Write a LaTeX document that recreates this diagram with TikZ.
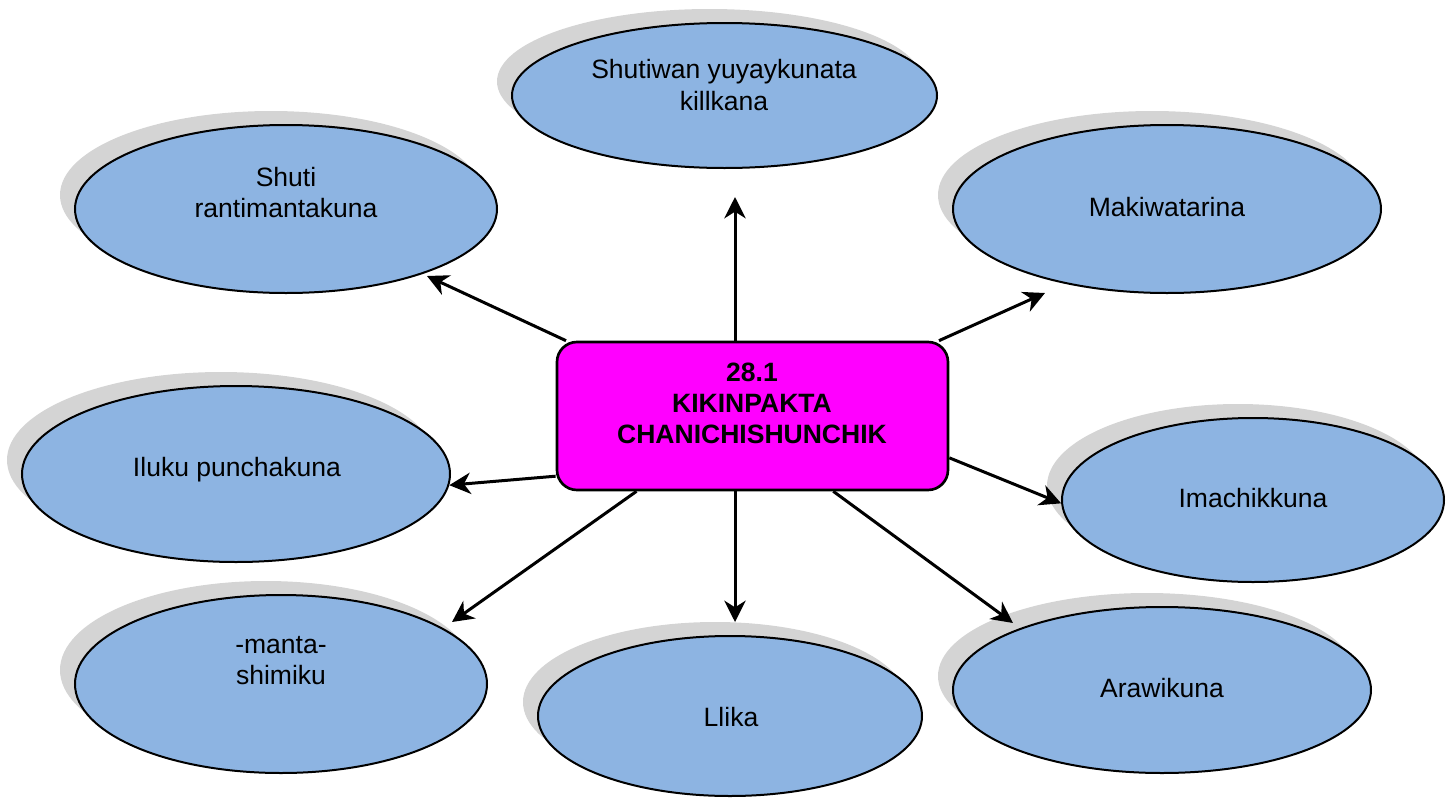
\documentclass[tikz,border=0pt]{standalone}
\usepackage{fontspec}
\setmainfont{Liberation Sans}
\usetikzlibrary{shapes.geometric,shadows,arrows.meta,calc}
\definecolor{ellblue}{RGB}{141,180,226}
\definecolor{shgray}{RGB}{212,212,212}
\definecolor{boxmag}{RGB}{255,0,255}
\begin{document}
\begin{tikzpicture}[x=0.75pt,y=-0.75pt,
  bubble/.style={ellipse, draw=black, line width=1.5pt, fill=ellblue, inner sep=0pt,
    drop shadow={shadow xshift=-11.25pt, shadow yshift=10.5pt, fill=shgray, opacity=1}},
  lbl/.style={align=center, font=\fontsize{19.9}{23.3}\selectfont, inner sep=0pt},
  hub/.style={rectangle, rounded corners=15pt, draw=black, line width=2pt, fill=boxmag,
    inner sep=0pt, minimum width=293.25pt, minimum height=111pt},
  hubtxt/.style={align=center, font=\bfseries\fontsize{19.9}{23.3}\selectfont, inner sep=0pt},
  conn/.style={line width=2.25pt, -{Stealth[length=16pt,width=16pt,inset=5pt]}}
]
\useasboundingbox (0,0) rectangle (1447,800);

% ellipses
\node[bubble, minimum width=316.5pt, minimum height=126pt] (e1) at (286,209) {};
\node[bubble, minimum width=318.75pt, minimum height=108.75pt] (e2) at (724.5,95.5) {};
\node[bubble, minimum width=321pt, minimum height=126pt] (e3) at (1167,209) {};
\node[bubble, minimum width=286.5pt, minimum height=123pt] (e4) at (1253,500) {};
\node[bubble, minimum width=321pt, minimum height=132pt] (e5) at (236,474) {};
\node[bubble, minimum width=309pt, minimum height=133.5pt] (e6) at (281,684) {};
\node[bubble, minimum width=288pt, minimum height=120pt] (e7) at (730,716) {};
\node[bubble, minimum width=313.5pt, minimum height=124.5pt] (e8) at (1162,690) {};

% labels
\node[lbl] (t1) at (286,192.5) {Shuti\\rantimantakuna};
\node[lbl] (t2) at (724,85) {Shutiwan yuyaykunata\\killkana};
\node[lbl] (t3) at (1167,207) {Makiwatarina};
\node[lbl] (t4) at (1253,498) {Imachikkuna};
\node[lbl] (t5) at (237,470) {Iluku punchakuna};
\node[lbl] (t6) at (281,661) {-manta-\\shimiku};
\node[lbl] (t7) at (731,717) {Llika};
\node[lbl] (t8) at (1162,688) {Arawikuna};

% central box
\node[hub] (box) at (752.5,416) {};
\node[hubtxt] (boxt) at (752,403) {28.1\\KIKINPAKTA\\CHANICHISHUNCHIK};

% free arrow ends
\coordinate (tip1) at (427,276);
\coordinate (tip2) at (735,197);
\coordinate (tip3) at (1045,293);
\coordinate (tip6) at (452,622);
\coordinate (tip7) at (735,622);
\coordinate (tip8) at (1013,623);

% connectors
\draw[conn] (box.158.4) -- (tip1);
\draw[conn] ([xshift=-13.125pt]box.north) -- (tip2);
\draw[conn] (box.22) -- (tip3);
\draw[conn] (box.-12) -- (e4.181);
\draw[conn] (box.197) -- (e5.-3.7);
\draw[conn] (box.213.3) -- (tip6);
\draw[conn] ([xshift=-13.125pt]box.south) -- (tip7);
\draw[conn] (box.-43.7) -- (tip8);
\end{tikzpicture}
\end{document}
